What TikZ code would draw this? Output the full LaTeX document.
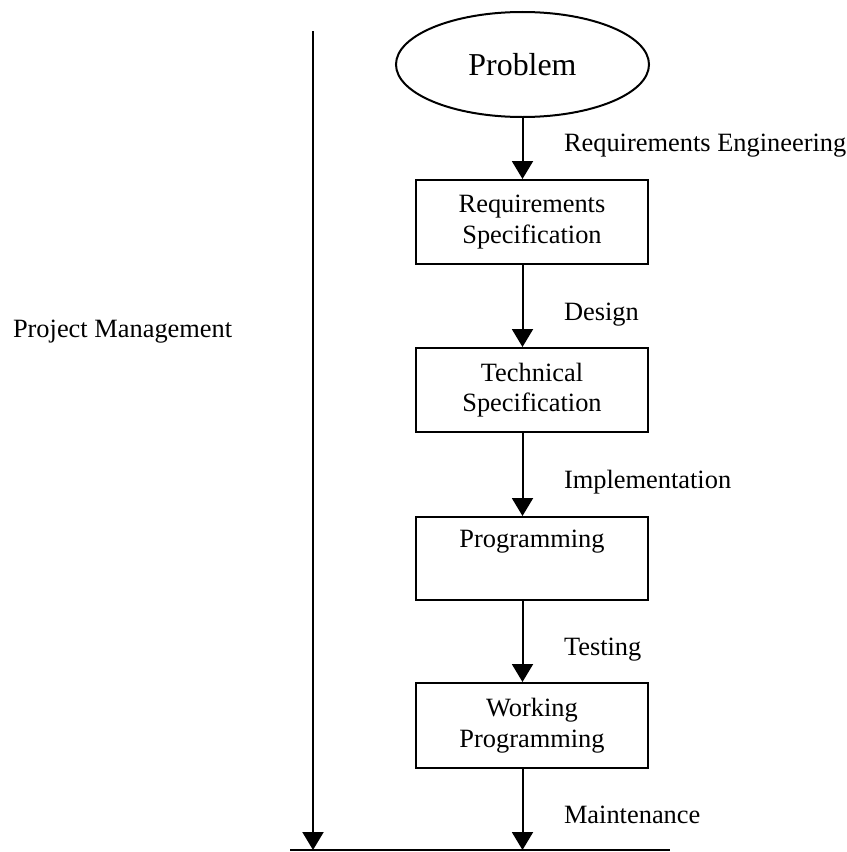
\documentclass[tikz,border=0pt]{standalone}
\usepackage{fontspec}
\setmainfont{Liberation Serif}
\usetikzlibrary{arrows.meta,shapes.geometric}
\begin{document}
\begin{tikzpicture}[x=1bp,y=-1bp,
  line width=2bp,
  every node/.style={inner sep=0pt},
  txt/.style={font=\fontsize{26.5}{30.5}\selectfont},
  stage/.style={draw, txt, align=center, minimum width=232bp, minimum height=84bp},
  goal/.style={draw, ellipse, font=\fontsize{32}{36}\selectfont,
    minimum width=253bp, minimum height=105bp},
  flow/.style={-{Triangle[length=18bp,width=21bp]}},
  phase/.style={txt, anchor=base west}]
\useasboundingbox (0,0) rectangle (847,852);

% life-cycle products
\node[goal]  (prob) at (522.5,64.5) {Problem};
\node[stage] (req)  at (532,222)    {Requirements\\Specification};
\node[stage] (tech) at (532,390)    {Technical\\Specification};
\node[stage, minimum height=83bp] (prog) at (532,558.5) {Programming\\\strut};
\node[stage, minimum height=85bp] (work) at (532,725.5) {Working\\Programming};

% activities between products
\node[phase] (lre) at (563,151.5) {Requirements Engineering};
\node[phase] (ld)  at (563,320)   {Design};
\node[phase] (li)  at (563,488)   {Implementation};
\node[phase] (lt)  at (563,655)   {Testing};
\node[phase] (lm)  at (563,823)   {Maintenance};
\node[phase] (lpm) at (12,337)    {Project Management};

% end points of the time axis
\coordinate (pmTop) at (313,31);
\coordinate (pmEnd) at (313,850);
\coordinate (done)  at (522.5,850);
\coordinate (endL)  at (290,850);
\coordinate (endR)  at (670,850);

% flow of the stages
\draw[flow] (prob.south) -- (req.north -| prob.south);
\draw[flow] (req.south -| prob.south) -- (tech.north -| prob.south);
\draw[flow] (tech.south -| prob.south) -- (prog.north -| prob.south);
\draw[flow] (prog.south -| prob.south) -- (work.north -| prob.south);
\draw[flow] (work.south -| prob.south) -- (done);

% project management axis and base line
\draw[flow] (pmTop) -- (pmEnd);
\draw (endL) -- (endR);
\end{tikzpicture}
\end{document}
